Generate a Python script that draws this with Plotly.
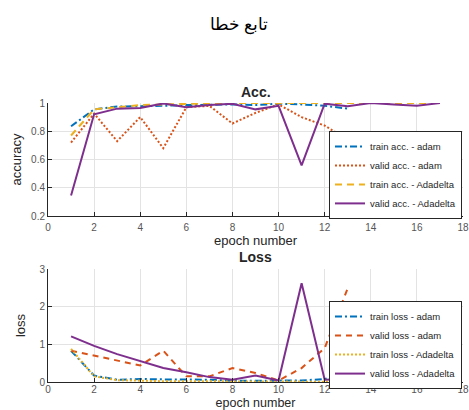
import plotly.graph_objects as go

# ---------------- data ----------------
epochs_adam = list(range(1, 14))
epochs_adadelta = list(range(1, 18))

train_acc_adam = [0.835, 0.955, 0.975, 0.975, 0.98, 0.985, 0.99, 0.99, 0.985, 0.995, 0.99, 0.98, 0.96]
valid_acc_adam = [0.72, 0.925, 0.73, 0.90, 0.68, 0.97, 0.98, 0.855, 0.93, 0.99, 0.90, 0.84, 0.74]
train_acc_adadelta = [0.77, 0.955, 0.97, 0.985, 0.99, 0.995, 1.0, 1.0, 1.0, 1.0, 1.0, 1.0, 1.0, 1.0, 1.0, 1.0, 1.0]
valid_acc_adadelta = [0.345, 0.92, 0.96, 0.965, 0.997, 0.97, 0.985, 0.995, 0.955, 0.98, 0.558, 0.995, 0.977, 1.0, 0.99, 0.98, 1.0]

train_loss_adam = [0.83, 0.17, 0.06, 0.08, 0.07, 0.07, 0.06, 0.03, 0.03, 0.02, 0.04, 0.08, 0.25]
valid_loss_adam = [0.83, 0.70, 0.59, 0.44, 0.83, 0.15, 0.15, 0.37, 0.24, 0.04, 0.37, 0.90, 2.49]
train_loss_adadelta = [0.88, 0.15, 0.05, 0.03, 0.02, 0.02, 0.015, 0.01, 0.01, 0.01, 0.01, 0.01, 0.01, 0.01, 0.01, 0.01, 0.01]
valid_loss_adadelta = [1.21, 0.96, 0.74, 0.55, 0.37, 0.26, 0.13, 0.06, 0.17, 0.04, 2.62, 0.06, 0.08, 0.0, 0.02, 0.08, 0.0]

acc_names = ["train acc. - adam", "valid acc. - adam", "train acc. - Adadelta", "valid acc. - Adadelta"]
loss_names = ["train loss - adam", "valid loss - adam", "train loss - Adadelta", "valid loss - Adadelta"]

x_ticks = list(range(0, 19, 2))
acc_ticks = [0.2, 0.4, 0.6, 0.8, 1]
loss_ticks = [0, 1, 2, 3]

title_text = "تابع خطا"

# ---------------- style ----------------
BLUE = "#0072BD"
ORANGE = "#D95319"
YELLOW = "#EDB120"
PURPLE = "#7E2F8E"
SANS = "Liberation Sans, Arial, sans-serif"

fig = go.Figure()

acc_series = [
    (epochs_adam, train_acc_adam, BLUE, "7px,3px,2px,3px"),
    (epochs_adam, valid_acc_adam, ORANGE, "2px,2px"),
    (epochs_adadelta, train_acc_adadelta, YELLOW, "7px,5px"),
    (epochs_adadelta, valid_acc_adadelta, PURPLE, "solid"),
]
for (x, y, c, d), n in zip(acc_series, acc_names):
    fig.add_trace(go.Scatter(x=x, y=y, mode="lines", name=n,
                             line=dict(color=c, width=2, dash=d),
                             xaxis="x", yaxis="y", legend="legend"))

loss_series = [
    (epochs_adam, train_loss_adam, BLUE, "7px,3px,2px,3px"),
    (epochs_adam, valid_loss_adam, ORANGE, "6px,5px"),
    (epochs_adadelta, train_loss_adadelta, YELLOW, "2px,2px"),
    (epochs_adadelta, valid_loss_adadelta, PURPLE, "solid"),
]
for (x, y, c, d), n in zip(loss_series, loss_names):
    fig.add_trace(go.Scatter(x=x, y=y, mode="lines", name=n,
                             line=dict(color=c, width=2, dash=d),
                             xaxis="x2", yaxis="y2", legend="legend2"))

axis_common = dict(showline=True, linecolor="#262626", linewidth=1, mirror=False,
                   showgrid=True, gridcolor="#e3e3e3", gridwidth=1,
                   ticks="inside", ticklen=4, tickcolor="#262626",
                   tickfont=dict(family=SANS, size=10, color="#555555"),
                   zeroline=False, automargin=False)

legend_common = dict(xanchor="right", yanchor="top",
                     bgcolor="white", bordercolor="#262626", borderwidth=1,
                     font=dict(family=SANS, size=9.5, color="#262626"),
                     itemwidth=30, tracegroupgap=0)

fig.update_layout(
    width=469, height=410,
    paper_bgcolor="white", plot_bgcolor="white",
    margin=dict(l=48, r=6, t=103, b=28, autoexpand=False),
    showlegend=True,
    title=dict(text=title_text, x=0.51, xref="container", y=0.942, yref="container",
               xanchor="center", yanchor="middle", automargin=False,
               font=dict(family="Times New Roman, Liberation Serif, DejaVu Serif, serif", size=17, color="#000000")),
    xaxis=dict(domain=[0, 1], anchor="y", range=[0, 18], tickvals=x_ticks, ticklabelstandoff=2,
               title=dict(text="epoch number", standoff=0, font=dict(family=SANS, size=13, color="#262626")),
               **axis_common),
    yaxis=dict(domain=[0.595, 1], anchor="x", range=[0.2, 1], tickvals=acc_ticks,
               title=dict(text="accuracy", standoff=6, font=dict(family=SANS, size=13, color="#262626")),
               **axis_common),
    xaxis2=dict(domain=[0, 1], anchor="y2", range=[0, 18], tickvals=x_ticks, ticklabelstandoff=-2,
                title=dict(text="epoch number", standoff=5, font=dict(family=SANS, size=12.5, color="#262626")),
                **axis_common),
    yaxis2=dict(domain=[0, 0.405], anchor="x2", range=[0, 3], tickvals=loss_ticks,
                title=dict(text="loss", standoff=10, font=dict(family=SANS, size=13, color="#262626")),
                **axis_common),
    legend=dict(x=0.9976, y=0.90, **legend_common),
    legend2=dict(x=0.9976, y=0.29, **legend_common),
    annotations=[
        dict(text="<b>Acc.</b>", xref="x domain", yref="y domain", x=0.5, y=1,
             xanchor="center", yanchor="bottom", yshift=1, showarrow=False,
             font=dict(family=SANS, size=14, color="#262626")),
        dict(text="<b>Loss</b>", xref="x2 domain", yref="y2 domain", x=0.5, y=1,
             xanchor="center", yanchor="bottom", yshift=2, showarrow=False,
             font=dict(family=SANS, size=14, color="#262626")),
    ],
)

fig.write_html("out.html", config={"displayModeBar": False},
               post_script="document.body.style.margin='0';document.body.style.padding='0';")
